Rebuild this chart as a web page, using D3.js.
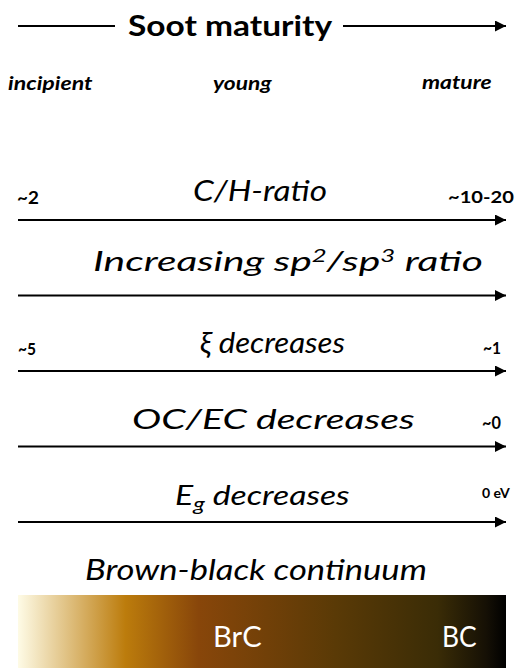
<!DOCTYPE html>
<html>

<head>
  <meta charset="utf-8">
  <title>Soot maturity</title>
  <script src="https://cdn.jsdelivr.net/npm/d3@7"></script>
  <style>
    body { margin: 0; background: #fff; }
    svg { display: block; font-family: Lato, "Open Sans", sans-serif; }
  </style>
</head>

<body>
  <svg width="518" height="668"></svg>
  <script>
    // stages along the maturity axis
    const stages = ["incipient", "young", "mature"];

    // property rows: value at the incipient end, value at the mature end
    const rows = ["C/H-ratio", "sp", "xi", "OC/EC", "Eg"];
    const rowLeft = ["~2", "", "~5", "", ""];
    const rowRight = ["~10-20", "", "~1", "~0", "0 eV"];

    // brown-black continuum colour stops
    const gradOffsets = [0, 0.22, 0.37, 0.65, 0.86, 0.96, 1];
    const gradColors = ["#fefbe6", "#bc7c0c", "#88460a", "#5a3a06", "#3a2c06", "#151005", "#000000"];
    const bandLabels = ["BrC", "BC"];

    const svg = d3.select("svg");
    const x = d3.scaleLinear().domain([0, 1]).range([18, 506]);
    const y = d3.scalePoint().domain(rows).range([220, 522]);

    // the picture is stretched sideways, so stretch each text between two edges
    function stretch(sel, x0, x1) {
      const n = sel.node();
      sel.attr("x", x0).attr("text-anchor", "start");
      const b = n.getBBox();
      const sx = (x1 - x0) / b.width;
      const ox = b.x;
      sel.attr("transform", `translate(${x0},0) scale(${sx},1) translate(${-ox},0)`);
    }

    const defs = svg.append("defs");
    defs.append("marker")
      .attr("id", "head")
      .attr("viewBox", "0 0 10 10")
      .attr("refX", 10).attr("refY", 5)
      .attr("markerUnits", "userSpaceOnUse")
      .attr("markerWidth", 13).attr("markerHeight", 11)
      .attr("orient", "auto")
      .append("path").attr("d", "M0,0L10,5L0,10Z").attr("fill", "#000");

    // title row
    svg.append("line")
      .attr("x1", x(0)).attr("x2", 115)
      .attr("y1", 26).attr("y2", 26)
      .attr("stroke", "#000").attr("stroke-width", 2);
    svg.append("text")
      .attr("y", 36)
      .attr("font-size", 29).attr("font-weight", "bold")
      .text("Soot maturity")
      .call(stretch, 128, 333);
    svg.append("line")
      .attr("x1", 343).attr("x2", x(1))
      .attr("y1", 26).attr("y2", 26)
      .attr("stroke", "#000").attr("stroke-width", 2)
      .attr("marker-end", "url(#head)");

    const stageSpan = [[8, 93], [213, 273], [422, 492]];
    svg.selectAll(".stage")
      .data(stages)
      .join("text")
      .attr("class", "stage")
      .attr("y", (d, i) => i == 2 ? 89 : 90)
      .attr("font-size", 18).attr("font-weight", "bold").attr("font-style", "italic")
      .text(d => d)
      .each(function (d, i) { d3.select(this).call(stretch, stageSpan[i][0], stageSpan[i][1]); });

    // arrows
    svg.selectAll(".arrow")
      .data(rows)
      .join("line")
      .attr("class", "arrow")
      .attr("x1", x(0)).attr("x2", x(1))
      .attr("y1", d => y(d)).attr("y2", d => y(d))
      .attr("stroke", "#000").attr("stroke-width", 2)
      .attr("marker-end", "url(#head)");

    // row titles: left/right edge, height above the arrow, font size
    const titleSpan = {
      "C/H-ratio": [193, 327, 19, 28], "sp": [93, 483, 24, 27], "xi": [200, 345, 18, 28],
      "OC/EC": [132, 415, 17, 27], "Eg": [175, 350, 17, 27]
    };
    svg.selectAll(".rowtitle")
      .data(rows)
      .join("text")
      .attr("class", "rowtitle")
      .attr("y", d => y(d) - titleSpan[d][2])
      .attr("font-size", d => titleSpan[d][3]).attr("font-style", "italic")
      .each(function (d) {
        const t = d3.select(this);
        if (d == "C/H-ratio") t.text("C/H-ratio");
        if (d == "xi") t.text("\u03be decreases");
        if (d == "OC/EC") t.text("OC/EC decreases");
        if (d == "sp") {
          t.append("tspan").text("Increasing sp");
          t.append("tspan").attr("dy", -9).attr("font-size", 17).text("2");
          t.append("tspan").attr("dy", 9).text("/sp");
          t.append("tspan").attr("dy", -9).attr("font-size", 17).text("3");
          t.append("tspan").attr("dy", 9).text(" ratio");
        }
        if (d == "Eg") {
          t.append("tspan").text("E");
          t.append("tspan").attr("dy", 6).attr("font-size", 19).text("g");
          t.append("tspan").attr("dy", -6).text(" decreases");
        }
        t.call(stretch, titleSpan[d][0], titleSpan[d][1]);
      });

    // end values
    const leftSpan = { "C/H-ratio": [17, 39], "xi": [18, 36] };
    svg.selectAll(".lval")
      .data(rows.filter((d, i) => rowLeft[i]))
      .join("text")
      .attr("class", "lval")
      .attr("y", d => y(d) - 16)
      .attr("font-size", 17).attr("font-weight", "bold")
      .text(d => rowLeft[rows.indexOf(d)])
      .each(function (d) { d3.select(this).call(stretch, leftSpan[d][0], leftSpan[d][1]); });

    // left edge, right edge, height above the arrow, font size
    const rightSpan = {
      "C/H-ratio": [448, 514, 17, 17], "xi": [483, 501, 17, 17],
      "OC/EC": [482, 501, 17, 17], "Eg": [482, 510, 24, 14]
    };
    svg.selectAll(".rval")
      .data(rows.filter((d, i) => rowRight[i]))
      .join("text")
      .attr("class", "rval")
      .attr("y", d => y(d) - rightSpan[d][2])
      .attr("font-size", d => rightSpan[d][3]).attr("font-weight", "bold")
      .text(d => rowRight[rows.indexOf(d)])
      .each(function (d) { d3.select(this).call(stretch, rightSpan[d][0], rightSpan[d][1]); });

    // brown-black continuum
    svg.append("text")
      .attr("y", 580)
      .attr("font-size", 28).attr("font-style", "italic")
      .text("Brown-black continuum")
      .call(stretch, 85, 427);

    const grad = defs.append("linearGradient").attr("id", "bb");
    grad.selectAll("stop")
      .data(gradOffsets)
      .join("stop")
      .attr("offset", d => d)
      .attr("stop-color", (d, i) => gradColors[i]);

    svg.append("rect")
      .attr("x", x(0)).attr("y", 595)
      .attr("width", x(1) - x(0)).attr("height", 80)
      .attr("fill", "url(#bb)");

    const bandSpan = [[213, 262], [442, 477]];
    svg.selectAll(".band")
      .data(bandLabels)
      .join("text")
      .attr("class", "band")
      .attr("y", 647)
      .attr("font-size", 28).attr("fill", "#fff")
      .text(d => d)
      .each(function (d, i) { d3.select(this).call(stretch, bandSpan[i][0], bandSpan[i][1]); });
  </script>
</body>

</html>
